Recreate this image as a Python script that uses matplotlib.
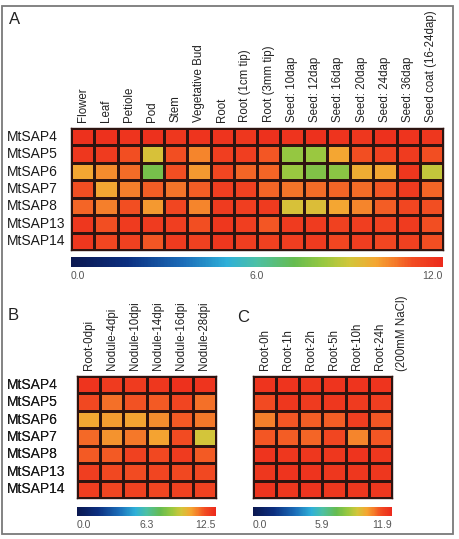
import numpy as np
import matplotlib
matplotlib.use("Agg")
import matplotlib.pyplot as plt
from matplotlib.colors import LinearSegmentedColormap
from matplotlib.patches import Rectangle
from matplotlib.transforms import blended_transform_factory

plt.rcParams['font.family'] = ['Liberation Sans', 'DejaVu Sans']

genes = ['MtSAP4', 'MtSAP5', 'MtSAP6', 'MtSAP7', 'MtSAP8', 'MtSAP13', 'MtSAP14']

# panel A: tissues
tissues = ['Flower', 'Leaf', 'Petiole', 'Pod', 'Stem', 'Vegetative Bud', 'Root',
           'Root (1cm tip)', 'Root (3mm tip)', 'Seed: 10dap', 'Seed: 12dap',
           'Seed: 16dap', 'Seed: 20dap', 'Seed: 24dap', 'Seed: 36dap',
           'Seed coat (16-24dap)']
vals_a = [
    [11.8, 11.8, 11.7, 11.8, 11.6, 11.7, 11.7, 11.6, 11.8, 11.7, 11.8, 11.7, 11.6, 11.8, 11.7, 11.6],
    [11.6, 11.5, 11.0, 9.1, 11.0, 10.3, 11.4, 11.4, 10.9, 8.1, 8.2, 9.8, 11.0, 11.3, 11.5, 11.0],
    [9.8, 10.2, 10.6, 7.5, 11.0, 10.0, 11.2, 10.7, 10.7, 8.2, 7.7, 7.9, 9.7, 9.8, 11.6, 8.8],
    [11.0, 9.8, 10.4, 10.8, 10.5, 10.8, 11.4, 11.3, 10.7, 10.5, 10.6, 10.7, 10.6, 10.9, 11.5, 10.7],
    [10.7, 10.4, 11.0, 10.0, 11.2, 10.3, 11.5, 11.4, 11.5, 9.1, 9.2, 9.8, 10.3, 10.8, 11.2, 11.0],
    [11.6, 11.0, 11.5, 11.5, 11.4, 11.0, 11.6, 11.4, 10.9, 11.5, 11.5, 11.3, 11.4, 11.3, 11.5, 11.0],
    [11.6, 11.2, 11.3, 10.9, 11.5, 11.3, 11.6, 11.4, 11.3, 11.4, 11.5, 11.2, 11.4, 11.2, 11.3, 11.0],
]
ticks_a = [0.0, 6.0, 12.0]

# panel B: nodulation
nodule = ['Root-0dpi', 'Nodule-4dpi', 'Nodule-10dpi', 'Nodule-14dpi', 'Nodule-16dpi', 'Nodule-28dpi']
vals_b = [
    [12.2, 12.0, 12.0, 12.1, 12.3, 12.2],
    [11.6, 11.0, 11.4, 11.3, 11.7, 11.0],
    [10.2, 10.4, 10.3, 10.6, 11.3, 10.9],
    [11.1, 10.5, 10.9, 10.3, 11.5, 9.4],
    [11.3, 11.3, 11.8, 11.6, 12.0, 11.3],
    [11.9, 11.6, 11.5, 11.7, 11.6, 11.6],
    [11.9, 11.7, 11.8, 11.7, 11.8, 11.8],
]
ticks_b = [0.0, 6.3, 12.5]

# panel C: salt stress
salt = ['Root-0h', 'Root-1h', 'Root-2h', 'Root-5h', 'Root-10h', 'Root-24h']
vals_c = [
    [11.6, 11.6, 11.5, 11.6, 11.6, 11.6],
    [11.0, 11.5, 11.4, 11.5, 11.4, 11.3],
    [10.3, 10.8, 10.7, 10.7, 11.3, 10.8],
    [10.8, 10.7, 10.6, 11.1, 10.2, 10.8],
    [11.6, 11.5, 11.5, 11.5, 11.6, 11.5],
    [11.5, 11.6, 11.6, 11.5, 11.5, 11.5],
    [11.6, 11.5, 11.6, 11.5, 11.5, 11.5],
]
ticks_c = [0.0, 5.9, 11.9]

cmap = LinearSegmentedColormap.from_list('expr', [
    (0.0, '#0b1850'), (0.15, '#0c2f80'), (0.3, '#1b6cb8'), (0.42, '#2fb0d8'),
    (0.5, '#4cc0a4'), (0.6, '#66bc50'), (0.68, '#98c840'), (0.75, '#d2c63a'),
    (0.82, '#f4a632'), (0.87, '#f57c2a'), (0.92, '#f24c22'), (1.0, '#ec2a1c')])

W, H = 459, 539
fig = plt.figure(figsize=(W / 100, H / 100), dpi=100)


def box(x0, y0, x1, y1):
    return [x0 / W, 1 - y1 / H, (x1 - x0) / W, (y1 - y0) / H]


def heat(rect, crect, vals, cols, ticks):
    ax = fig.add_axes(box(*rect))
    m = ax.pcolormesh(np.array(vals), cmap=cmap, vmin=ticks[0], vmax=ticks[-1],
                      edgecolors='#2e1410', linewidth=1.0)
    ax.set_ylim(len(vals), 0)
    ax.set_xlim(0, len(cols))
    ax.xaxis.tick_top()
    ax.set_xticks(np.arange(len(cols)) + 0.5)
    ax.set_xticklabels(cols, rotation=90, fontsize=8.3, color='#222222')
    ax.tick_params(axis='x', length=0, pad=4)
    ax.set_yticks([])
    for s in ax.spines.values():
        s.set_color('#2e1410')
        s.set_linewidth(1.0)
    tr = blended_transform_factory(fig.transFigure, ax.transData)
    for i, g in enumerate(genes):
        ax.text(7 / W, i + 0.5, g, transform=tr, ha='left', va='center',
                fontsize=10, color='#1a1a1a')
    cax = fig.add_axes(box(*crect))
    cb = fig.colorbar(m, cax=cax, orientation='horizontal')
    cb.outline.set_visible(False)
    cb.set_ticks(ticks)
    cb.set_ticklabels([f'{t:.1f}' for t in ticks])
    cax.tick_params(length=0, pad=3, labelsize=7.5, labelcolor='#555555')
    labs = cax.get_xticklabels()
    labs[0].set_ha('left')
    labs[-1].set_ha('right')
    return ax


heat((71, 128, 443, 250), (71, 257, 443, 267), vals_a, tissues, ticks_a)
heat((77, 376, 216, 498), (77, 507, 216, 516), vals_b, nodule, ticks_b)
heat((253, 376, 392, 498), (253, 507, 392, 516), vals_c, salt, ticks_c)

fig.text(402 / W, 1 - 371 / H, '(200mM NaCl)', rotation=90, ha='center', va='bottom',
         fontsize=8.3, color='#222222')

for lab, x, y in [('A', 9, 20), ('B', 8, 315), ('C', 237, 317)]:
    fig.text(x / W, 1 - y / H, lab, ha='left', va='center', fontsize=12, color='#222222')

fig.patches.append(Rectangle((2 / W, 1 - 534 / H), 451 / W, 528 / H, transform=fig.transFigure,
                             fill=False, edgecolor='#7a7a7a', linewidth=1.3))

fig.savefig('out.png', dpi=100)
